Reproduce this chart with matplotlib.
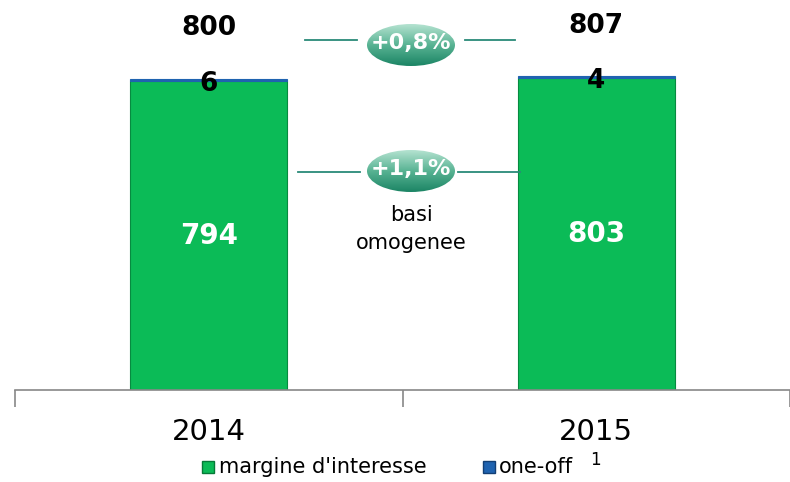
import matplotlib
matplotlib.use('agg')
import numpy as np
import matplotlib.pyplot as plt
from matplotlib.patches import Ellipse
from matplotlib.colors import LinearSegmentedColormap

years = ['2014', '2015']
margine = [794, 803]
one_off = [6, 4]
totals = [800, 807]
growth_labels = ['+0,8%', '+1,1%']

green = '#0BBB57'
blue = '#1F63B0'

fig = plt.figure(figsize=(7.9, 4.82), dpi=100)
ax = fig.add_axes([15 / 790, 1 - 390 / 482, 775 / 790, 390 / 482])

x = np.arange(len(years))
w = 0.405
ax.bar(x, margine, w, color=green, edgecolor='#078a40', linewidth=0.8)
ax.bar(x, one_off, w, bottom=margine, color=blue, edgecolor=blue, linewidth=0.8)

for i in range(len(years)):
    ax.text(x[i], margine[i] / 2, str(margine[i]), ha='center', va='center',
            color='white', fontsize=20, fontweight='bold')
    ax.text(x[i], totals[i] - 12, str(one_off[i]), ha='center', va='center',
            color='black', fontsize=19, fontweight='bold')
    ax.text(x[i], totals[i] + 130, str(totals[i]), ha='center', va='center',
            color='black', fontsize=19, fontweight='bold')

ax.set_xlim(-0.5, 1.5)
ax.set_ylim(0, 1003)
ax.set_yticks([])
ax.set_xticks([-0.5, 0.5, 1.5], minor=False)
ax.set_xticklabels([])
ax.set_xticks(x, minor=True)
ax.set_xticklabels(years, minor=True, fontsize=21)
ax.tick_params(axis='x', which='minor', length=0, pad=20)
ax.tick_params(axis='x', which='major', length=12, color='#888888', width=1.2)
for s in ['top', 'right', 'left']:
    ax.spines[s].set_visible(False)
ax.spines['bottom'].set_color('#888888')
ax.spines['bottom'].set_linewidth(1.2)

# overlay in pixel coordinates for the growth badges
ov = fig.add_axes([0, 0, 1, 1])
ov.axis('off')

grad = np.linspace(0, 1, 100).reshape(-1, 1)
cmap = LinearSegmentedColormap.from_list('badge', ['#b4e2d0', '#58b393', '#1c8565'])

badges = [(411, 45, 305, 357, 465, 515, 40), (411, 171, 298, 360, 458, 520, 172)]
for lab, (cx, cy, l0, l1, r0, r1, ly) in zip(growth_labels, badges):
    ov.plot([l0, l1], [ly, ly], color='#2a8a78', lw=1.3)
    ov.plot([r0, r1], [ly, ly], color='#2a8a78', lw=1.3)
    e = Ellipse((cx, cy), 88, 42, facecolor='none', edgecolor='none')
    ov.add_patch(e)
    im = ov.imshow(grad, cmap=cmap, extent=[cx - 44, cx + 44, cy + 21, cy - 21],
                   aspect='auto', zorder=2)
    im.set_clip_path(e)
    ov.text(cx, cy - 2, lab, ha='center', va='center', color='white',
            fontsize=16, fontweight='bold', zorder=3)

ov.text(411, 215, 'basi', ha='center', va='center', fontsize=15)
ov.text(411, 243, 'omogenee', ha='center', va='center', fontsize=15)

# legend
ov.add_patch(plt.Rectangle((202, 461), 12, 12, facecolor=green, edgecolor='#067a38'))
ov.text(219, 467, "margine d'interesse", ha='left', va='center', fontsize=15)
ov.add_patch(plt.Rectangle((483, 461), 12, 12, facecolor=blue, edgecolor='#123f75'))
ov.text(499, 467, 'one-off', ha='left', va='center', fontsize=15)
ov.text(590, 460, '1', ha='left', va='center', fontsize=12)
ov.set_xlim(0, 790)
ov.set_ylim(482, 0)

fig.savefig('out.png', dpi=100)
